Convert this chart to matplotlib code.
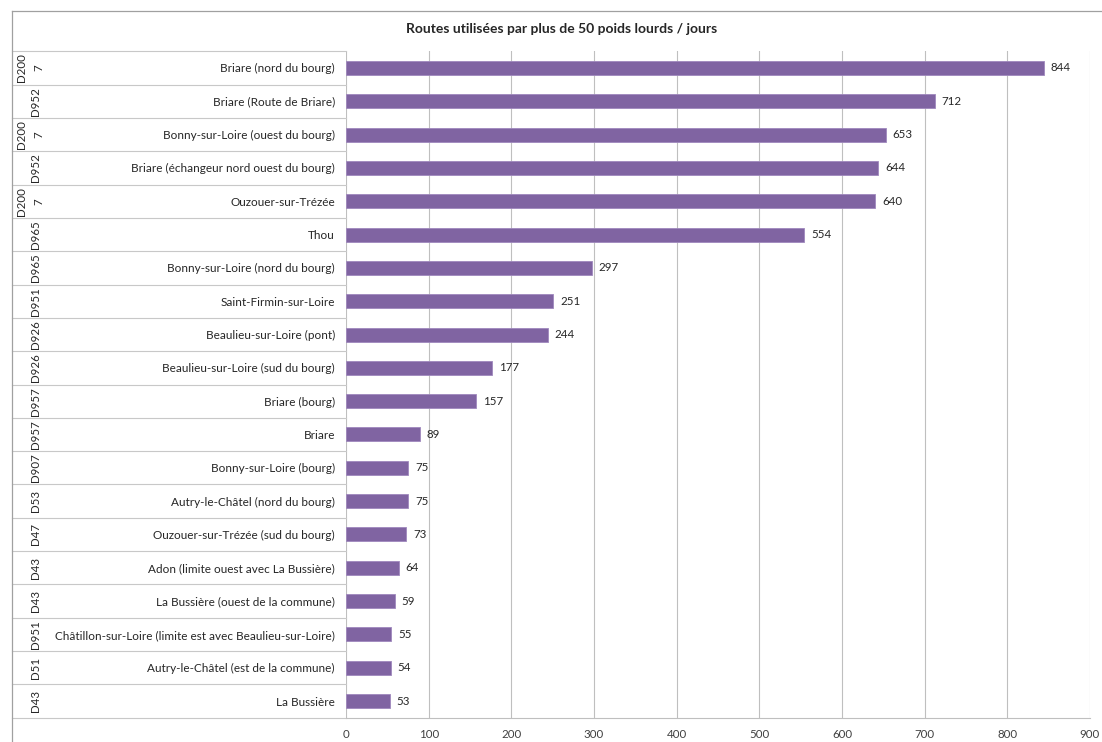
import matplotlib.pyplot as plt
import matplotlib.transforms as mtransforms
from matplotlib.lines import Line2D
import textwrap

plt.rcParams['font.family'] = ['Lato', 'DejaVu Sans']

# Data
routes = ["D2007", "D952", "D2007", "D952", "D2007", "D965", "D965", "D951", "D926", "D926",
          "D957", "D957", "D907", "D53", "D47", "D43", "D43", "D951", "D51", "D43"]
lieux = ["Briare (nord du bourg)", "Briare (Route de Briare)", "Bonny-sur-Loire (ouest du bourg)",
         "Briare (échangeur nord ouest du bourg)", "Ouzouer-sur-Trézée", "Thou",
         "Bonny-sur-Loire (nord du bourg)", "Saint-Firmin-sur-Loire", "Beaulieu-sur-Loire (pont)",
         "Beaulieu-sur-Loire (sud du bourg)", "Briare (bourg)", "Briare", "Bonny-sur-Loire (bourg)",
         "Autry-le-Châtel (nord du bourg)", "Ouzouer-sur-Trézée (sud du bourg)",
         "Adon (limite ouest avec La Bussière)", "La Bussière (ouest de la commune)",
         "Châtillon-sur-Loire (limite est avec Beaulieu-sur-Loire)", "Autry-le-Châtel (est de la commune)",
         "La Bussière"]
valeurs = [844, 712, 653, 644, 640, 554, 297, 251, 244, 177, 157, 89, 75, 75, 73, 64, 59, 55, 54, 53]
x_ticks = list(range(0, 1000, 100))

W, H = 1102, 742
fig = plt.figure(figsize=(W / 100, H / 100), dpi=100)
ax = fig.add_axes([346 / W, (742 - 717.7) / H, 744 / W, (717.7 - 51.3) / H])

pos = list(range(len(valeurs)))
ax.barh(pos, valeurs, height=0.42, color="#8064A2", edgecolor="#9f88bd", linewidth=0.6, zorder=3)
for p, v in zip(pos, valeurs):
    ax.annotate(str(v), (v, p), xytext=(5, 0), textcoords="offset points",
                va="center", ha="left", fontsize=8.3, color="#262626")

ax.set_xlim(0, 900)
ax.set_ylim(len(valeurs) - 0.5, -0.5)
ax.set_xticks(x_ticks)
ax.set_xticklabels([str(t) for t in x_ticks], fontsize=8.3, color="#404040")
ax.tick_params(axis="x", length=0, pad=8)
ax.set_yticks(pos)
ax.set_yticklabels(lieux, fontsize=8.5, color="#262626")
ax.tick_params(axis="y", length=0, pad=8)
ax.grid(axis="x", color="#bfbfbf", linewidth=0.8, zorder=0)
for s in ["top", "right", "left"]:
    ax.spines[s].set_visible(False)
ax.spines["bottom"].set_color("#bfbfbf")
ax.spines["bottom"].set_linewidth(0.8)

# multi-level category axis: road column and row separators
trans = mtransforms.blended_transform_factory(fig.transFigure, ax.transData)
for p, r in zip(pos, routes):
    lines = textwrap.wrap(r, 4)
    xc = 30 if len(lines) > 1 else 35
    ax.text(xc / W, p, "\n".join(lines), transform=trans, rotation=90,
            ha="center", va="center", fontsize=8.3, color="#262626", linespacing=1.7)
for k in range(len(valeurs) + 1):
    y = k - 0.5
    ax.add_line(Line2D([12 / W, 346 / W], [y, y], transform=trans, color="#c8c8c8",
                       linewidth=0.8, clip_on=False))

# chart frame
fig.add_artist(Line2D([12 / W, 12 / W], [0, 1 - 11 / H], color="#a0a0a0", linewidth=0.9))
fig.add_artist(Line2D([12 / W, 1], [1 - 11 / H, 1 - 11 / H], color="#a0a0a0", linewidth=0.9))

fig.text(562 / W, 1 - 29 / H, "Routes utilisées par plus de 50 poids lourds / jours",
         ha="center", va="center", fontsize=10, fontweight="bold", color="#262626")

fig.savefig("out.png", dpi=100)
